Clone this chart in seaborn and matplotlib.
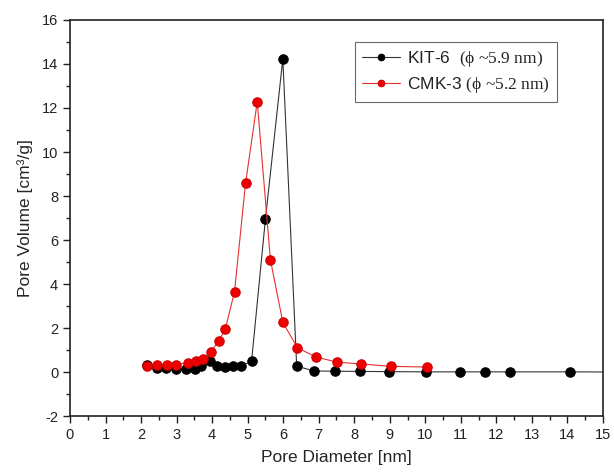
import numpy as np
import pandas as pd
import matplotlib
matplotlib.use("Agg")
import matplotlib.pyplot as plt
import seaborn as sns
from matplotlib.ticker import MultipleLocator

kit_x = [2.18, 2.44, 2.70, 2.97, 3.27, 3.51, 3.70, 3.93, 4.13, 4.35, 4.58, 4.82, 5.11,
         5.50, 5.99, 6.38, 6.87, 7.45, 8.16, 8.99, 10.02, 10.98, 11.68, 12.38, 14.07, 16.0]
kit_y = [0.31, 0.20, 0.20, 0.15, 0.15, 0.15, 0.26, 0.50, 0.26, 0.23, 0.26, 0.29, 0.49,
         6.94, 14.23, 0.27, 0.05, 0.04, 0.03, 0.02, 0.01, 0.01, 0.01, 0.01, 0.01, 0.0]

cmk_x = [2.18, 2.46, 2.72, 2.98, 3.31, 3.55, 3.75, 3.96, 4.19, 4.37, 4.63, 4.94, 5.27,
         5.64, 5.99, 6.40, 6.91, 7.52, 8.19, 9.03, 10.04]
cmk_y = [0.27, 0.34, 0.34, 0.34, 0.43, 0.50, 0.61, 0.91, 1.43, 1.95, 3.64, 8.57, 12.28,
         5.11, 2.26, 1.11, 0.69, 0.45, 0.37, 0.26, 0.23]

kit_label = r"KIT-6  $\text{(ϕ ~5.9 nm)}$"
cmk_label = r"CMK-3 $\text{(ϕ ~5.2 nm)}$"

sns.set_style("ticks")
plt.rcParams['font.family'] = ['Liberation Sans', 'DejaVu Sans']
plt.rcParams['mathtext.fontset'] = 'custom'
plt.rcParams['mathtext.rm'] = 'Liberation Serif'
plt.rcParams['mathtext.it'] = 'Liberation Serif:italic'
plt.rcParams['mathtext.bf'] = 'Liberation Serif:bold'
plt.rcParams['axes.unicode_minus'] = False
plt.rcParams['axes.edgecolor'] = '#222222'
plt.rcParams['text.color'] = '#222222'

fig = plt.figure(figsize=(6.14, 4.75), dpi=100)
ax = fig.add_axes([0.114, 0.124, 0.868, 0.834])

df_kit = pd.DataFrame({"x": kit_x, "y": kit_y})
df_cmk = pd.DataFrame({"x": cmk_x, "y": cmk_y})

sns.lineplot(data=df_kit, x="x", y="y", ax=ax, sort=False, color="#333333",
             linewidth=0.8, marker="o", markersize=6.8, markerfacecolor="black",
             markeredgecolor="black", label=kit_label)
sns.lineplot(data=df_cmk, x="x", y="y", ax=ax, sort=False, color="#e83030",
             linewidth=0.8, marker="o", markersize=6.8, markerfacecolor="#ee0000",
             markeredgecolor="#cc0000", label=cmk_label)

ax.set_xlim(0, 15)
ax.set_ylim(-2, 16)
ax.xaxis.set_major_locator(MultipleLocator(1))
ax.xaxis.set_minor_locator(MultipleLocator(0.5))
ax.yaxis.set_major_locator(MultipleLocator(2))
ax.yaxis.set_minor_locator(MultipleLocator(1))
ax.tick_params(which='major', direction='out', length=5, width=1, labelsize=10.5,
               colors='#222222', top=False, right=False)
ax.tick_params(which='minor', direction='out', length=3, width=1,
               top=False, right=False, colors='#222222')
for s in ax.spines.values():
    s.set_linewidth(1.2)

ax.set_xlabel("Pore Diameter [nm]", fontsize=12.5, labelpad=6)
ax.set_ylabel("Pore Volume [cm³/g]", fontsize=12.5, labelpad=6)

leg = ax.legend(loc='upper right', bbox_to_anchor=(0.93, 0.965), fontsize=12.5,
                frameon=True, fancybox=False, edgecolor='#444444',
                handlelength=2.2, handletextpad=0.4, borderpad=0.4,
                labelspacing=0.3, markerscale=0.7)
leg.get_frame().set_linewidth(0.8)

fig.savefig("out.png", dpi=100)
